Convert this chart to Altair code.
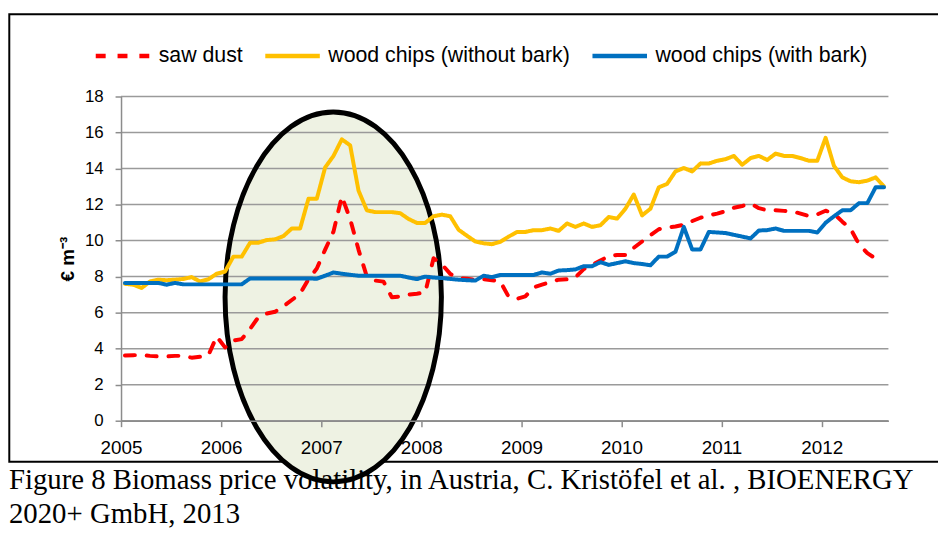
import altair as alt
import pandas as pd

# ---------------- data ----------------
tick_years = [2005, 2006, 2007, 2008, 2009, 2010, 2011, 2012]
y_ticks = [0, 2, 4, 6, 8, 10, 12, 14, 16, 18]
series_names = ["saw dust", "wood chips (without bark)", "wood chips (with bark)"]
series_colors = ["#FF0000", "#FFC000", "#0070C0"]
series_dashes = [[10, 12], [1, 0], [1, 0]]

first_year = 2005  # monthly prices from January 2005, plotted mid-month

saw_dust = [
    3.62, 3.64, 3.65, 3.60, 3.57, 3.57, 3.60, 3.60, 3.50, 3.55, 3.63, 4.68,
    4.07, 4.45, 4.53, 5.10, 5.75, 5.95, 6.05, 6.35, 6.70, 7.05, 7.85, 8.45,
    9.50, 10.50, 12.45, 11.20, 9.50, 8.00, 7.78, 7.72, 6.85, 6.90, 7.00, 7.05,
    7.12, 9.02, 8.68, 8.15, 7.92, 7.88, 7.83, 7.86, 7.80, 7.73, 6.88, 6.77,
    6.90, 7.40, 7.55, 7.70, 7.83, 7.85, 7.95, 8.42, 8.65, 8.90, 9.13, 9.20,
    9.20, 9.60, 9.95, 10.30, 10.63, 10.73, 10.78, 10.88, 11.08, 11.27, 11.40, 11.50,
    11.63, 11.82, 11.92, 12.05, 11.80, 11.68, 11.68, 11.65, 11.62, 11.50, 11.36, 11.45,
    11.66, 11.50, 11.05, 10.65, 9.80, 9.30, 9.00,
]
chips_without_bark = [
    7.60, 7.55, 7.37, 7.73, 7.83, 7.80, 7.83, 7.87, 7.97, 7.73, 7.85, 8.16,
    8.28, 9.11, 9.11, 9.88, 9.88, 10.03, 10.07, 10.25, 10.67, 10.67, 12.32, 12.32,
    14.06, 14.70, 15.62, 15.29, 12.78, 11.68, 11.58, 11.58, 11.58, 11.52, 11.20, 10.98,
    10.98, 11.35, 11.44, 11.35, 10.60, 10.27, 9.95, 9.85, 9.80, 9.93, 10.22, 10.48,
    10.48, 10.58, 10.58, 10.67, 10.54, 10.95, 10.76, 10.95, 10.76, 10.85, 11.31, 11.22,
    11.77, 12.56, 11.40, 11.77, 12.96, 13.15, 13.84, 14.03, 13.84, 14.28, 14.28, 14.43,
    14.52, 14.70, 14.21, 14.58, 14.70, 14.48, 14.83, 14.70, 14.70, 14.58, 14.43, 14.43,
    15.71, 14.15, 13.51, 13.29, 13.24, 13.33, 13.51, 13.00,
]
chips_with_bark = [
    7.65, 7.65, 7.65, 7.65, 7.65, 7.55, 7.65, 7.57, 7.57, 7.57, 7.57, 7.57,
    7.57, 7.57, 7.57, 7.90, 7.90, 7.90, 7.90, 7.90, 7.90, 7.90, 7.90, 7.88,
    8.05, 8.23, 8.16, 8.10, 8.05, 8.05, 8.05, 8.05, 8.05, 8.05, 7.95, 7.86,
    8.00, 7.95, 7.92, 7.87, 7.83, 7.80, 7.78, 8.05, 7.97, 8.09, 8.09, 8.09,
    8.09, 8.09, 8.23, 8.16, 8.34, 8.36, 8.40, 8.58, 8.58, 8.80, 8.65, 8.75,
    8.85, 8.75, 8.70, 8.63, 9.11, 9.11, 9.38, 10.76, 9.51, 9.51, 10.48, 10.45,
    10.42, 10.32, 10.22, 10.12, 10.56, 10.58, 10.67, 10.54, 10.54, 10.54, 10.54, 10.45,
    10.99, 11.35, 11.68, 11.68, 12.08, 12.08, 12.96, 12.96,
]

caption_lines = [
    "Figure 8 Biomass price volatility, in Austria, C. Kristöfel et al. , BIOENERGY",
    "2020+ GmbH, 2013",
]

# highlighted period (ellipse annotation): centre in data units
ellipse_center_year = [2007.12]
ellipse_center_value = [6.87]

# ---------------- tables ----------------
rows = []
for name, vals in zip(series_names, [saw_dust, chips_without_bark, chips_with_bark]):
    for i, v in enumerate(vals):
        rows.append({"series": name, "t": first_year + (i + 0.47) / 12.0, "value": v})
df = pd.DataFrame(rows)
grid_df = pd.DataFrame({"t": [2005.0] * len(y_ticks), "value": y_ticks})
ell_df = pd.DataFrame({"t": ellipse_center_year, "value": ellipse_center_value})
cap_df = pd.DataFrame({"caption": ["\n".join(caption_lines)]})
frame_df = pd.DataFrame({"a": [0]})

W, H = 774, 327
xscale = alt.Scale(domain=[2005, 2012 + 8 / 12], nice=False, zero=False)
yscale = alt.Scale(domain=[0, 18], nice=False)

AXC = "#8C8C8C"
x_axis = alt.Axis(values=tick_years, format="d", grid=False, title=None,
                  tickSize=6, tickColor=AXC, tickWidth=1.5,
                  domainColor=AXC, domainWidth=1.5,
                  labelFont="Liberation Sans", labelFontSize=19, labelColor="black",
                  labelPadding=12, labelFlush=False, zindex=1)
y_axis = alt.Axis(values=y_ticks, grid=False, title="€ m⁻³",
                  tickSize=6, tickColor=AXC, tickWidth=1.5,
                  domainColor=AXC, domainWidth=1.5,
                  labelFont="Liberation Sans", labelFontSize=17, labelColor="black",
                  labelPadding=12, titleFont="Liberation Sans", titleFontSize=19,
                  titleFontWeight="bold", titleColor="black", titlePadding=7, zindex=1)

X = alt.X("t:Q", scale=xscale, axis=x_axis)
Y = alt.Y("value:Q", scale=yscale, axis=y_axis)

legend = alt.Legend(
    title=None, orient="none", legendX=-28, legendY=-71,
    direction="horizontal", symbolType="stroke", symbolSize=3025,
    symbolStrokeWidth=4.5, labelFont="Liberation Sans",
    labelFontSize=21.5, labelColor="black", labelOffset=6,
    columnPadding=13, labelLimit=400,
)

PATH = ("M 0,-1 C 0.3231,-1 0.585,-0.5523 0.585,0 "
        "C 0.585,0.5523 0.3231,1 0,1 C -0.3231,1 -0.585,0.5523 -0.585,0 "
        "C -0.585,-0.5523 -0.3231,-1 0,-1 Z")
ELL_SIZE = 373 * 373

frame = alt.Chart(frame_df).mark_rect(filled=False, stroke="black", strokeWidth=2).encode(
    x=alt.value(-112.7), x2=alt.value(840), y=alt.value(-83), y2=alt.value(368.3)
)

ellipse_fill = alt.Chart(ell_df).mark_point(
    shape=PATH, size=ELL_SIZE, filled=True, fill="#EEF2E3", strokeOpacity=0, opacity=1
).encode(x=X, y=Y)
ellipse_stroke = alt.Chart(ell_df).mark_point(
    shape=PATH, size=ELL_SIZE, filled=False, stroke="black", strokeWidth=5, opacity=1
).encode(x=X, y=Y)

grid = alt.Chart(grid_df).mark_rule(color="#9A9A9A", strokeWidth=1.5).encode(y=Y)

lines = alt.Chart(df).mark_line(strokeWidth=4, strokeCap="round", strokeJoin="round").encode(
    x=X,
    y=Y,
    color=alt.Color("series:N", scale=alt.Scale(domain=series_names, range=series_colors),
                    legend=legend),
    strokeDash=alt.StrokeDash("series:N",
                              scale=alt.Scale(domain=series_names, range=series_dashes),
                              legend=legend),
)

caption = alt.Chart(cap_df).mark_text(
    align="left", baseline="alphabetic", font="Liberation Serif", fontSize=29,
    lineBreak="\n", lineHeight=34, color="black"
).encode(x=alt.value(-113), y=alt.value(396), text="caption:N")

chart = alt.layer(frame, ellipse_fill, grid, ellipse_stroke, lines, caption).properties(
    width=W, height=H, autosize=alt.AutoSizeParams(type="none"),
    padding={"left": 114, "top": 87, "right": 50, "bottom": 111},
    background="white",
).configure_view(stroke=None)

chart.save("out.html", embed_options={"renderer": "svg", "actions": False})
